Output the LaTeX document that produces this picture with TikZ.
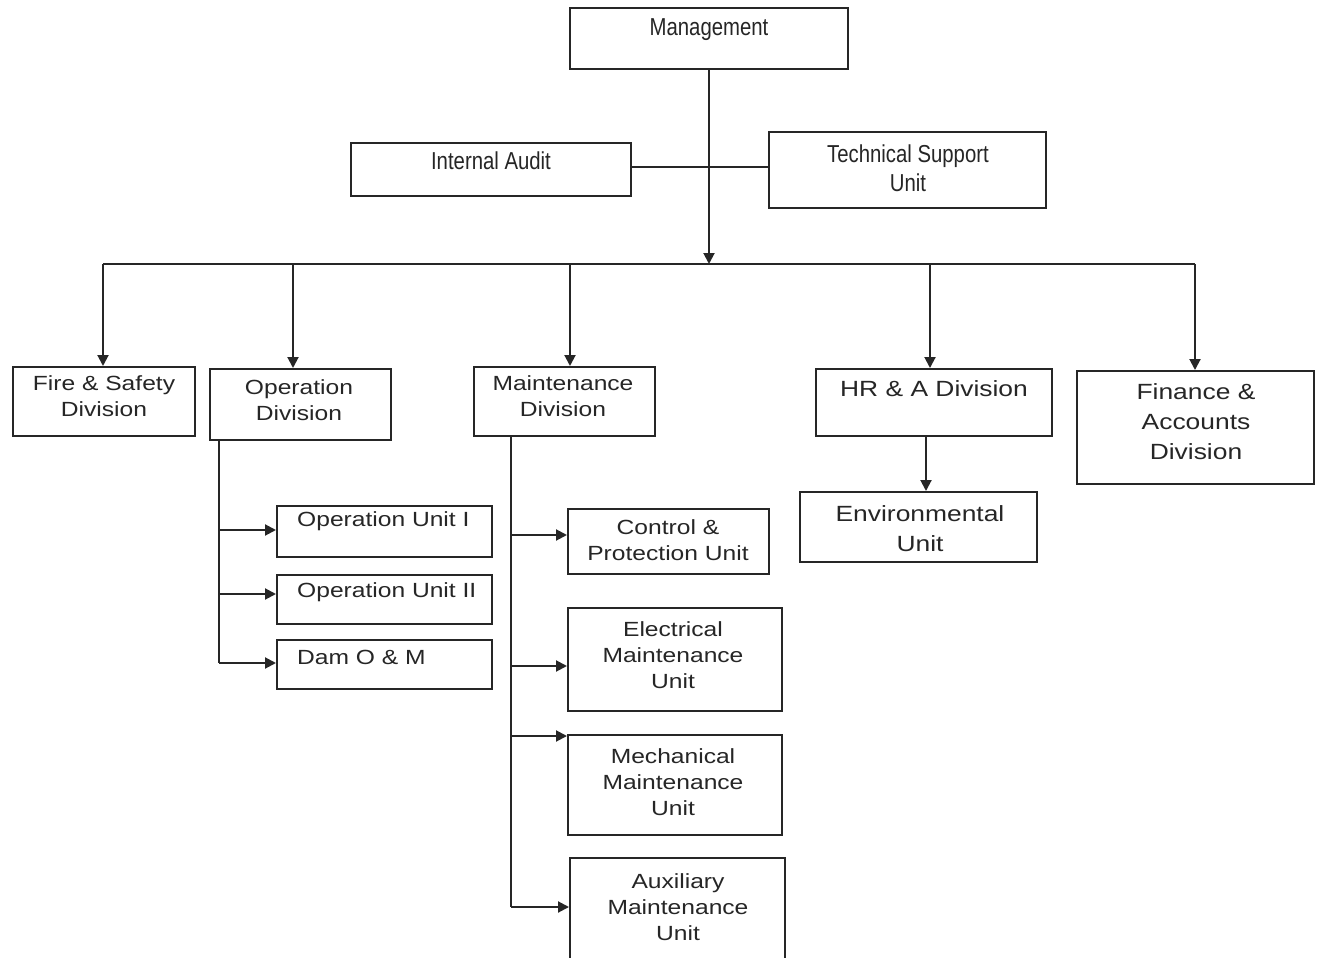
\documentclass[tikz,border=0pt]{standalone}
\usepackage{fontspec}
\setmainfont{Liberation Sans}
\newfontfamily\topfont[FakeStretch=0.83]{Liberation Sans}
\newfontfamily\lowfont[FakeStretch=1.2]{Liberation Sans}
\usetikzlibrary{arrows.meta}
\begin{document}
\begin{tikzpicture}[x=1pt,y=-1pt,
  box/.style 2 args={draw=black!85, line width=2pt, minimum width=#1, minimum height=#2, inner sep=0pt},
  ttop/.style={font=\topfont\fontsize{24.5}{29}\selectfont, text=black!85, align=center, inner sep=0pt},
  tlow/.style={font=\lowfont\fontsize{20.5}{26}\selectfont, text=black!85, align=center, inner sep=0pt},
  tbig/.style={font=\lowfont\fontsize{22}{30}\selectfont, text=black!85, align=center, inner sep=0pt},
  con/.style={draw=black!85, line width=2pt},
  arr/.style={con, -{Triangle[length=11pt,width=11pt]}}]
\useasboundingbox (0,0) rectangle (1318,958);
\clip (0,0) rectangle (1318,958);
\fill[white] (0,0) rectangle (1318,958);

% boxes
\node[box={278pt}{61pt}] (mgmt) at (709,38.5) {};
\node[box={280pt}{53pt}] (audit) at (491,169.5) {};
\node[box={277pt}{76pt}] (tsu) at (907.5,170) {};
\node[box={182pt}{69pt}] (fire) at (104,401.5) {};
\node[box={181pt}{71pt}] (opdiv) at (300.5,404.5) {};
\node[box={181pt}{69pt}] (maint) at (564.5,401.5) {};
\node[box={236pt}{67pt}] (hr) at (934,402.5) {};
\node[box={237pt}{113pt}] (fin) at (1195.5,427.5) {};
\node[box={237pt}{70pt}] (env) at (918.5,527) {};
\node[box={215pt}{51pt}] (op1) at (384.5,531.5) {};
\node[box={215pt}{49pt}] (op2) at (384.5,599.5) {};
\node[box={215pt}{49pt}] (dam) at (384.5,664.5) {};
\node[box={201pt}{65pt}] (cpu) at (668.5,541.5) {};
\node[box={214pt}{103pt}] (elec) at (675,659.5) {};
\node[box={214pt}{100pt}] (mech) at (675,785) {};
\node[box={215pt}{110pt}] (aux) at (677.5,913) {};

% texts
\node[ttop] (mgmtT) at (709,30) {Management};
\node[ttop] (auditT) at (491,161) {Internal Audit};
\node[ttop] (tsuT) at (908,168) {Technical Support\\Unit};
\node[tlow] (fireT) at (104,396) {Fire \& Safety\\Division};
\node[tlow] (opdivT) at (299,400) {Operation\\Division};
\node[tlow] (maintT) at (563,396) {Maintenance\\Division};
\node[tbig] (hrT) at (934,389) {HR \& A Division};
\node[tbig] (finT) at (1196,422) {Finance \&\\Accounts\\Division};
\node[tbig] (envT) at (920,529) {Environmental\\Unit};
\node[tlow, anchor=west] (op1T) at (297,521) {Operation Unit I};
\node[tlow, anchor=west] (op2T) at (297,592) {Operation Unit II};
\node[tlow, anchor=west] (damT) at (297,657) {Dam O \& M};
\node[tlow] (cpuT) at (668,540) {Control \&\\Protection Unit};
\node[tlow] (elecT) at (673,655) {Electrical\\Maintenance\\Unit};
\node[tlow] (mechT) at (673,782) {Mechanical\\Maintenance\\Unit};
\node[tlow] (auxT) at (678,907) {Auxiliary\\Maintenance\\Unit};

% top connectors
\coordinate (bus) at (709,264);
\draw[arr] (mgmt.south) -- (bus);
\draw[con] (audit.east |- 0,167) -- (tsu.west |- 0,167);
\coordinate (busL) at (103,264);
\coordinate (busR) at (1195,264);
\draw[con] (busL) -- (busR);
\coordinate (b2) at (293,264);
\coordinate (b3) at (570,264);
\coordinate (b4) at (930,264);
\draw[arr] (busL) -- (busL |- fire.north);
\draw[arr] (b2) -- (b2 |- opdiv.north);
\draw[arr] (b3) -- (b3 |- maint.north);
\draw[arr] (b4) -- (b4 |- hr.north);
\draw[arr] (busR) -- (busR |- fin.north);

% HR -> Environmental
\coordinate (hrx) at (926,0);
\draw[arr] (hrx |- hr.south) -- (hrx |- env.north);

% Operation division branches
\coordinate (ov) at (219,0);
\draw[con] (ov |- opdiv.south) -- (219,663);
\draw[arr] (219,530) -- (op1.west |- 0,530);
\draw[arr] (219,594) -- (op2.west |- 0,594);
\draw[arr] (219,663) -- (dam.west |- 0,663);

% Maintenance division branches
\coordinate (mv) at (511,0);
\draw[con] (mv |- maint.south) -- (511,907);
\draw[arr] (511,535) -- (cpu.west |- 0,535);
\draw[arr] (511,666) -- (elec.west |- 0,666);
\draw[arr] (511,736) -- (mech.west |- 0,736);
\draw[arr] (511,907) -- (aux.west |- 0,907);
\end{tikzpicture}
\end{document}
